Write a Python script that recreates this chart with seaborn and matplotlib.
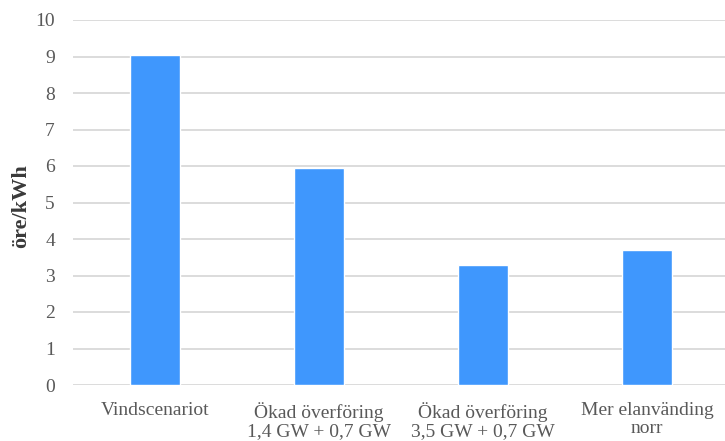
import matplotlib
matplotlib.use("Agg")
import matplotlib.pyplot as plt
import seaborn as sns
import pandas as pd

# Scenario names and cost per scenario (öre/kWh)
scenarios = [
    "Vindscenariot",
    "Ökad överföring\n1,4 GW + 0,7 GW",
    "Ökad överföring\n3,5 GW + 0,7 GW",
    "Mer elanvänding\nnorr",
]
costs = [9.05, 5.95, 3.3, 3.7]
y_ticks = list(range(0, 11))

sns.set_theme(style="white")
plt.rcParams["font.family"] = ["Liberation Serif", "DejaVu Serif"]

df = pd.DataFrame({"scenario": scenarios, "cost": costs})

fig = plt.figure(figsize=(7.25, 4.41), dpi=100)
ax = fig.add_axes([73 / 725, 56 / 441, 656 / 725, 365 / 441])

sns.barplot(data=df, x="scenario", y="cost", color="#3f97fd",
            saturation=1, width=0.31, ax=ax, zorder=3)

ax.set_ylim(0, 10)
ax.set_xlim(-0.5, len(scenarios) - 0.5)
ax.set_yticks(y_ticks)
ax.set_yticklabels([str(t) for t in y_ticks])
ax.yaxis.grid(True, color="#d9d9d9", linewidth=1.3, zorder=0)
ax.set_axisbelow(True)
for s in ax.spines.values():
    s.set_visible(False)

ax.tick_params(axis="y", length=0, pad=13, labelsize=14, labelcolor="#595959")
ax.tick_params(axis="x", length=0, pad=12.5, labelsize=14, labelcolor="#595959")
for lbl in ax.get_xticklabels():
    lbl.set_linespacing(1.05)
ax.set_xlabel("")
ax.set_ylabel("")
fig.text(21 / 725, 1 - 206 / 441, "öre/kWh", rotation=90, ha="center",
         va="center", fontsize=16, fontweight="bold", color="#3a3a3a")

fig.savefig("out.png", dpi=100)
